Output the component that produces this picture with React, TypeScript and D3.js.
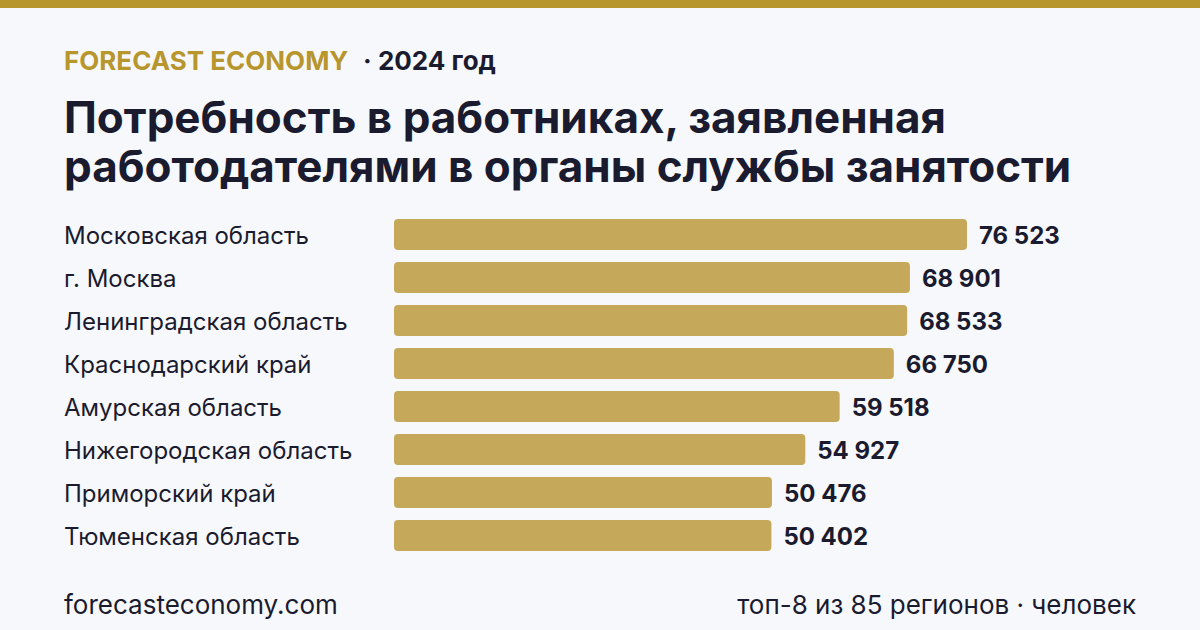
import React, { useEffect, useRef } from 'react';
import * as d3 from 'd3';

const regions = [
  'Московская область',
  'г. Москва',
  'Ленинградская область',
  'Краснодарский край',
  'Амурская область',
  'Нижегородская область',
  'Приморский край',
  'Тюменская область',
];
const values = [76523, 68901, 68533, 66750, 59518, 54927, 50476, 50402];

const brand = 'FORECAST ECONOMY';
const yearLabel = '· 2024 год';
const titleLines = [
  'Потребность в работниках, заявленная',
  'работодателями в органы службы занятости',
];
const siteLabel = 'forecasteconomy.com';
const noteLabel = 'топ-8 из 85 регионов · человек';

function App() {
  const svgRef = useRef<SVGSVGElement>(null);

  useEffect(() => {
    const width = 1200;
    const height = 630;
    const svg = d3.select(svgRef.current);
    svg.selectAll('*').remove();

    const font = 'Inter, "Noto Sans", sans-serif';
    const dark = '#1b1b2f';
    const gold = '#b8962e';

    svg.append('rect').attr('width', width).attr('height', height).attr('fill', '#f7f8fc');
    svg.append('rect').attr('width', width).attr('height', 8).attr('fill', gold);

    const head = svg.append('text')
      .attr('x', 64).attr('y', 70)
      .style('font-family', font).style('font-weight', 700).style('font-size', '26px');
    head.append('tspan').attr('fill', gold).text(brand);
    head.append('tspan').attr('fill', dark).attr('dx', 16).text(yearLabel);

    svg.selectAll('text.title').data(titleLines)
      .enter().append('text')
      .attr('class', 'title')
      .attr('x', 64)
      .attr('y', (d, i) => 133 + i * 49)
      .attr('fill', dark)
      .style('font-family', font).style('font-weight', 700).style('font-size', '44px')
      .text(d => d);

    const x = d3.scaleLinear().domain([0, d3.max(values)!]).range([394, 967]);
    const y = d3.scaleBand().domain(regions).range([213, 557]).paddingInner(0.28).paddingOuter(0.14);

    const rows = svg.selectAll('g.row').data(regions)
      .enter().append('g').attr('class', 'row');

    rows.append('text')
      .attr('x', 64)
      .attr('y', d => y(d)! + y.bandwidth() / 2)
      .attr('dy', '0.4em')
      .attr('fill', dark)
      .style('font-family', font).style('font-size', '24px')
      .text(d => d);

    rows.append('rect')
      .attr('x', x(0))
      .attr('y', d => y(d)!)
      .attr('width', (d, i) => x(values[i]) - x(0))
      .attr('height', y.bandwidth())
      .attr('rx', 4)
      .attr('fill', '#c5a85a');

    const fmt = (v: number) => d3.format(',')(v).replace(/,/g, ' ');
    rows.append('text')
      .attr('x', (d, i) => x(values[i]) + 12)
      .attr('y', d => y(d)! + y.bandwidth() / 2)
      .attr('dy', '0.4em')
      .attr('fill', dark)
      .style('font-family', font).style('font-weight', 700).style('font-size', '24px')
      .text((d, i) => fmt(values[i]));

    svg.append('text')
      .attr('x', 64).attr('y', 614)
      .attr('fill', dark)
      .style('font-family', font).style('font-size', '26px')
      .text(siteLabel);

    svg.append('text')
      .attr('x', 1136).attr('y', 614)
      .attr('text-anchor', 'end')
      .attr('fill', dark)
      .style('font-family', font).style('font-size', '26px')
      .text(noteLabel);
  }, []);

  return (
    <svg ref={svgRef} width={1200} height={630}
      style={{ position: 'absolute', left: 0, top: 0, display: 'block' }} />
  );
}

export default App;
